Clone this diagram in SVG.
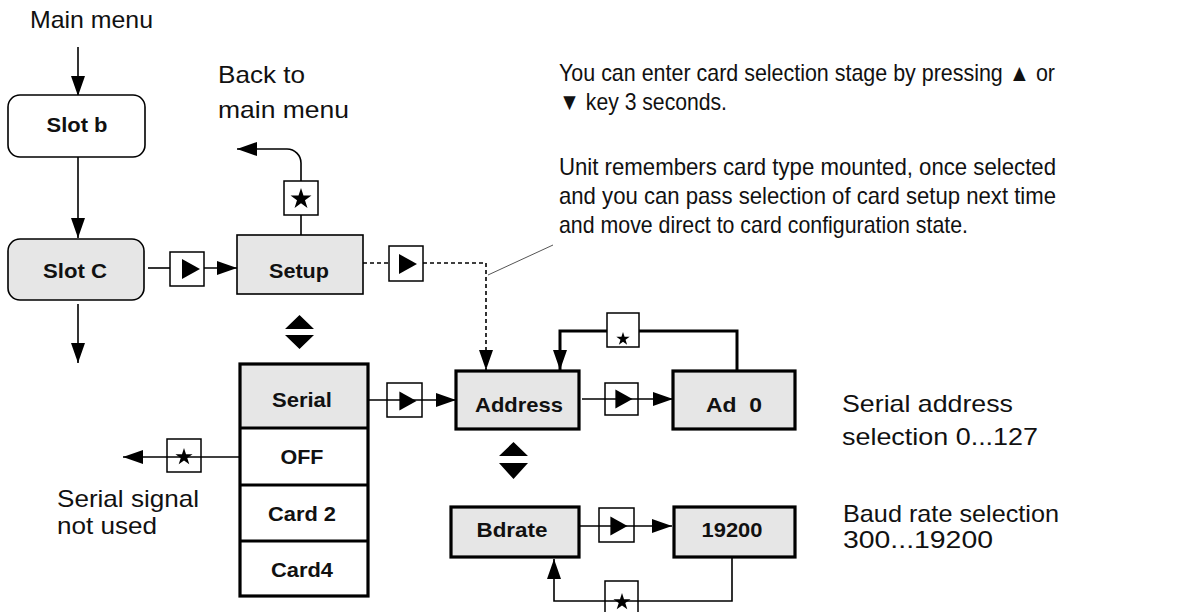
<svg xmlns="http://www.w3.org/2000/svg" xmlns:xlink="http://www.w3.org/1999/xlink" width="1193" height="612" viewBox="0 0 1193 612">
<style>
.t{font-family:"Liberation Sans",Arial,sans-serif;font-size:24px;fill:#111}
.b{font-family:"Liberation Sans",Arial,sans-serif;font-size:21px;font-weight:bold;fill:#111;text-anchor:middle}
.box{fill:#e6e6e6;stroke:#000;stroke-width:1.6}
.boxw{fill:#fff;stroke:#000;stroke-width:1.6}
.tk{fill:#e6e6e6;stroke:#000;stroke-width:3.2}
.key{fill:none;stroke:#000;stroke-width:1.5}
.ln{fill:none;stroke:#000;stroke-width:1.6}
.lnt{fill:none;stroke:#000;stroke-width:3}
.dash{fill:none;stroke:#000;stroke-width:1.6;stroke-dasharray:4 3}
.ud{fill:#000}
</style>
<defs>
<marker id="ah" viewBox="0 0 20 14" refX="20" refY="7" markerWidth="20" markerHeight="14" markerUnits="userSpaceOnUse" orient="auto">
<path d="M0,0 L20,7 L0,14 z" fill="#000"/>
</marker>
<path id="play" d="M-8,-10 L10,0 L-8,10 Z" fill="#000"/>
<path id="star" d="M0,-10 L2.245,-3.09 L9.51,-3.09 L3.633,1.18 L5.88,8.09 L0,3.82 L-5.88,8.09 L-3.633,1.18 L-9.51,-3.09 L-2.245,-3.09 Z" fill="#000"/>
</defs>
<rect width="1193" height="612" fill="#fff"/>

<g id="connectors">
<path class="ln" d="M78,47 V96" marker-end="url(#ah)"/>
<path class="ln" d="M78,157 V238" marker-end="url(#ah)"/>
<path class="ln" d="M78,304 V363" marker-end="url(#ah)"/>
<path class="ln" d="M148,268 H170"/>
<path class="ln" d="M204,268 H237" marker-end="url(#ah)"/>
<path class="ln" d="M301,235 V215"/>
<path class="ln" d="M301,181 V163 A14,14 0 0 0 287,149 H237" marker-end="url(#ah)"/>
<path class="dash" d="M363,263 H389"/>
<path class="dash" d="M423,263 H486 V370" marker-end="url(#ah)"/>
<path d="M488,275 L553,245" fill="none" stroke="#555" stroke-width="1"/>
<path class="lnt" d="M737,371 V331 H639"/>
<path class="lnt" d="M607,331 H560 V370" marker-end="url(#ah)"/>
<path class="ln" d="M368,400 H456" marker-end="url(#ah)"/>
<path class="ln" d="M582,399 H673" marker-end="url(#ah)"/>
<path class="ln" d="M240,457 H123" marker-end="url(#ah)"/>
<path class="ln" d="M579,526 H672" marker-end="url(#ah)"/>
<path class="ln" d="M732,557 V601 H554 V559" marker-end="url(#ah)"/>
<g id="keys">
<rect class="key" x="170" y="252" width="34" height="34"/><use xlink:href="#play" transform="translate(190,269)"/>
<rect class="key" x="284" y="181" width="34" height="34"/><use xlink:href="#star" transform="translate(301,199) scale(1.1)"/>
<rect class="key" x="389" y="246" width="34" height="35"/><use xlink:href="#play" transform="translate(407,264)"/>
<rect class="key" x="607" y="313" width="32" height="34" fill="#fff"/><use xlink:href="#star" transform="translate(623,339) scale(0.7)"/>
<rect class="key" x="387" y="383" width="35" height="34"/><use xlink:href="#play" transform="translate(407,401) scale(0.95)"/>
<rect class="key" x="605" y="383" width="33" height="32"/><use xlink:href="#play" transform="translate(623,399) scale(0.95)"/>
<rect class="key" x="167" y="439" width="34" height="33"/><use xlink:href="#star" transform="translate(184,457) scale(0.9)"/>
<rect class="key" x="599" y="508" width="35" height="34"/><use xlink:href="#play" transform="translate(618,526) scale(0.95)"/>
<rect class="key" x="605" y="581" width="33" height="33"/><use xlink:href="#star" transform="translate(622,602) scale(0.9)"/>
</g>
</g>

<g id="updown">
<path class="ud" d="M285,329 L299.5,315 L314,329 Z M285,335 L314,335 L299.5,349 Z"/>
<path class="ud" d="M499,456 L513.5,442 L528,456 Z M499,463 L528,463 L513.5,479 Z"/>
</g>

<g id="slot-b">
<rect class="boxw" x="8" y="95" width="137" height="62" rx="12"/>
<text class="b" x="77" y="132" textLength="61" lengthAdjust="spacingAndGlyphs">Slot b</text>
</g>
<g id="slot-c">
<rect class="box" x="8" y="239" width="136" height="61" rx="12"/>
<text class="b" x="75" y="278" textLength="64" lengthAdjust="spacingAndGlyphs">Slot C</text>
</g>
<g id="setup">
<rect class="box" x="237" y="235" width="126" height="59"/>
<text class="b" x="299" y="278" textLength="60" lengthAdjust="spacingAndGlyphs">Setup</text>
</g>
<g id="card-list">
<rect x="240" y="364" width="128" height="64" fill="#e6e6e6"/>
<rect x="240" y="364" width="128" height="232" fill="none" stroke="#000" stroke-width="3.2"/>
<path d="M240,428 H368 M240,485 H368 M240,541 H368" stroke="#000" stroke-width="3" fill="none"/>
<g id="serial"><text class="b" x="302" y="407" textLength="60" lengthAdjust="spacingAndGlyphs">Serial</text></g>
<g id="off"><text class="b" x="302" y="464" textLength="43" lengthAdjust="spacingAndGlyphs">OFF</text></g>
<g id="card2"><text class="b" x="302" y="521" textLength="68" lengthAdjust="spacingAndGlyphs">Card 2</text></g>
<g id="card4"><text class="b" x="302" y="577" textLength="62" lengthAdjust="spacingAndGlyphs">Card4</text></g>
</g>
<g id="address">
<rect class="tk" x="456" y="371" width="123" height="58"/>
<text class="b" x="519" y="412" textLength="88" lengthAdjust="spacingAndGlyphs">Address</text>
</g>
<g id="ad0">
<rect class="tk" x="673" y="371" width="122" height="58"/>
<text class="b" x="734" y="412" xml:space="preserve" textLength="56" lengthAdjust="spacingAndGlyphs">Ad  0</text>
</g>
<g id="bdrate">
<rect class="tk" x="451" y="507" width="128" height="50"/>
<text class="b" x="512" y="537" textLength="71" lengthAdjust="spacingAndGlyphs">Bdrate</text>
</g>
<g id="baud-19200">
<rect class="tk" x="674" y="507" width="121" height="50"/>
<text class="b" x="732" y="537" textLength="61" lengthAdjust="spacingAndGlyphs">19200</text>
</g>

<g id="labels">
<text class="t" x="30" y="28" textLength="123" lengthAdjust="spacingAndGlyphs">Main menu</text>
<text class="t" x="218" y="83" textLength="87" lengthAdjust="spacingAndGlyphs">Back to</text>
<text class="t" x="218" y="118" textLength="131" lengthAdjust="spacingAndGlyphs">main menu</text>
<text class="t" x="57" y="507" textLength="142" lengthAdjust="spacingAndGlyphs">Serial signal</text>
<text class="t" x="57" y="534" textLength="100" lengthAdjust="spacingAndGlyphs">not used</text>
<text class="t" x="842" y="412" textLength="171" lengthAdjust="spacingAndGlyphs">Serial address</text>
<text class="t" x="842" y="445" textLength="196" lengthAdjust="spacingAndGlyphs">selection 0...127</text>
<text class="t" x="843" y="522" textLength="216" lengthAdjust="spacingAndGlyphs">Baud rate selection</text>
<text class="t" x="843" y="548" textLength="150" lengthAdjust="spacingAndGlyphs">300...19200</text>
<text class="t" x="559" y="81" textLength="496" lengthAdjust="spacingAndGlyphs">You can enter card selection stage by pressing ▲ or</text>
<text class="t" x="559" y="110" textLength="168" lengthAdjust="spacingAndGlyphs">▼ key 3 seconds.</text>
<text class="t" x="559" y="175" textLength="497" lengthAdjust="spacingAndGlyphs">Unit remembers card type mounted, once selected</text>
<text class="t" x="559" y="204" textLength="497" lengthAdjust="spacingAndGlyphs">and you can pass selection of card setup next time</text>
<text class="t" x="559" y="233" textLength="409" lengthAdjust="spacingAndGlyphs">and move direct to card configuration state.</text>
</g>
</svg>
